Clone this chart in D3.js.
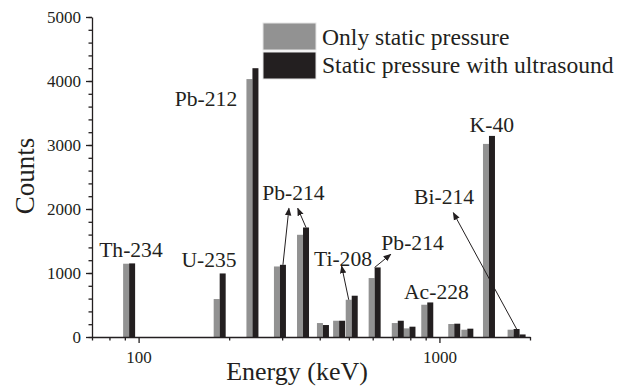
<!DOCTYPE html>
<html>
<head>
<meta charset="utf-8">
<script src="https://cdn.jsdelivr.net/npm/d3@7"></script>
<style>
  body { margin: 0; background: #fff; }
</style>
</head>
<body>
<script>
// gamma lines (keV) and counts for both runs
var energies = [93, 186, 239, 295, 352, 410, 464, 511, 609, 727, 795, 911, 1120, 1238, 1461, 1764, 1847];
var staticOnly = [1145, 593, 4030, 1102, 1597, 218, 254, 582, 921, 218, 135, 504, 203, 114, 3017, 114, 35];
var withUltrasound = [1150, 993, 4200, 1128, 1711, 187, 254, 645, 1087, 254, 161, 540, 208, 130, 3142, 125, 40];
var seriesNames = ["Only static pressure", "Static pressure with ultrasound"];

var xMajor = [100, 1000];
var xMinor = [70, 80, 90, 200, 300, 400, 500, 600, 700, 800, 900, 2000];
var yMajor = [0, 1000, 2000, 3000, 4000, 5000];
var yMinor = d3.range(0, 5001, 200);

// peak labels, placed in data units (keV, counts)
var peakLabels = [
    { t: "Th-234", e: 94.3, c: 1250 },
    { t: "U-235", e: 171.4, c: 1094 },
    { t: "Pb-212", e: 167.5, c: 3609 },
    { t: "Pb-214", e: 327, c: 2141 },
    { t: "Ti-208", e: 478, c: 1102 },
    { t: "Pb-214", e: 814, c: 1359 },
    { t: "Ac-228", e: 977, c: 594 },
    { t: "Bi-214", e: 1036, c: 2078 },
    { t: "K-40", e: 1493, c: 3208 }
];
// arrows: from a bar (index, which series, side) to a point near the label
var arrows = [
    { i: 3, s: 1, side: 0.5, e: 316, c: 2011 },
    { i: 4, s: 1, side: 0.5, e: 338, c: 2011 },
    { i: 7, s: 0, side: -0.5, e: 473, c: 1109 },
    { i: 8, s: 1, side: 0, e: 689, c: 1292 },
    { i: 15, s: 1, side: 0.5, e: 1112, c: 1942 }
];

var width = 627, height = 390;
var barW = 6;
var colors = ["#929292", "#231f20"];
var serif = "'Liberation Serif', serif";

var svg = d3.select("body").append("svg")
    .attr("width", width)
    .attr("height", height)
    .style("font-family", serif);

var x = d3.scaleLog().domain([70, 2000]).range([92, 530]);
var y = d3.scaleLinear().domain([0, 5000]).range([337, 17]);

var defs = svg.append("defs");
defs.append("marker")
    .attr("id", "arrow")
    .attr("viewBox", "0 0 10 10")
    .attr("refX", 9).attr("refY", 5)
    .attr("markerWidth", 8).attr("markerHeight", 8)
    .attr("markerUnits", "userSpaceOnUse")
    .attr("orient", "auto")
    .append("path")
    .attr("d", "M0,1 L10,5 L0,9 Z")
    .attr("fill", "#231f20");

// bars, grey drawn first so black sits on top
var allSeries = [staticOnly, withUltrasound];
allSeries.forEach(function (vals, s) {
    svg.append("g").selectAll("rect")
        .data(vals)
        .enter().append("rect")
        .attr("x", function (d, i) { return s === 0 ? x(energies[i]) - barW : x(energies[i]); })
        .attr("y", function (d) { return y(d); })
        .attr("width", barW)
        .attr("height", function (d) { return y(0) - y(d); })
        .attr("fill", colors[s]);
});

// axes
var axisColor = "#231f20";
var yAxis = svg.append("g").attr("transform", "translate(92,0)")
    .call(d3.axisLeft(y).tickValues(yMajor).tickSize(6).tickSizeOuter(0).tickFormat(d3.format("d")));
svg.append("g").attr("transform", "translate(92,0)")
    .call(d3.axisLeft(y).tickValues(yMinor).tickSize(3.5).tickFormat(""))
    .select(".domain").remove();

var xAxis = svg.append("g").attr("transform", "translate(0,337)")
    .call(d3.axisBottom(x).tickValues(xMajor).tickSize(6).tickSizeOuter(0).tickFormat(d3.format("d")));
svg.append("g").attr("transform", "translate(0,337)")
    .call(d3.axisBottom(x).tickValues(xMinor).tickSize(3.5).tickFormat(""))
    .select(".domain").remove();

svg.selectAll(".domain, .tick line")
    .attr("stroke", axisColor)
    .attr("stroke-width", 1.3);
yAxis.selectAll(".tick text")
    .attr("x", -11)
    .style("font-family", serif)
    .style("font-size", "17px")
    .style("fill", axisColor);
xAxis.selectAll(".tick text")
    .attr("y", 14)
    .style("font-family", serif)
    .style("font-size", "17px")
    .style("fill", axisColor);

// axis titles
svg.append("text")
    .attr("transform", "translate(34,176) rotate(-90)")
    .attr("text-anchor", "middle")
    .style("font-family", serif)
    .style("font-size", "27px")
    .style("fill", axisColor)
    .text("Counts");
svg.append("text")
    .attr("x", 297).attr("y", 380)
    .attr("text-anchor", "middle")
    .style("font-family", serif)
    .style("font-size", "26px")
    .style("fill", axisColor)
    .text("Energy (keV)");

// peak labels
svg.append("g").selectAll("text")
    .data(peakLabels)
    .enter().append("text")
    .attr("x", function (d) { return x(d.e); })
    .attr("y", function (d) { return y(d.c); })
    .attr("text-anchor", "middle")
    .style("font-family", serif)
    .style("font-size", "21.6px")
    .style("fill", axisColor)
    .text(function (d) { return d.t; });

// arrows
svg.append("g").selectAll("line")
    .data(arrows)
    .enter().append("line")
    .attr("x1", function (d) { return x(energies[d.i]) + d.side * barW; })
    .attr("y1", function (d) { return y(allSeries[d.s][d.i]); })
    .attr("x2", function (d) { return x(d.e); })
    .attr("y2", function (d) { return y(d.c); })
    .attr("stroke", "#231f20")
    .attr("stroke-width", 1)
    .attr("marker-end", "url(#arrow)");

// legend
var legend = svg.append("g").attr("transform", "translate(263,23)");
seriesNames.forEach(function (name, i) {
    legend.append("rect")
        .attr("x", 0).attr("y", i * 29)
        .attr("width", 53).attr("height", 27)
        .attr("fill", colors[i])
        .attr("stroke", "#e6e6e6")
        .attr("stroke-width", 1);
    legend.append("text")
        .attr("x", 59).attr("y", i * 28 + 22)
        .style("font-family", serif)
        .style("font-size", "23.6px")
        .style("fill", axisColor)
        .text(name);
});
</script>
</body>
</html>
